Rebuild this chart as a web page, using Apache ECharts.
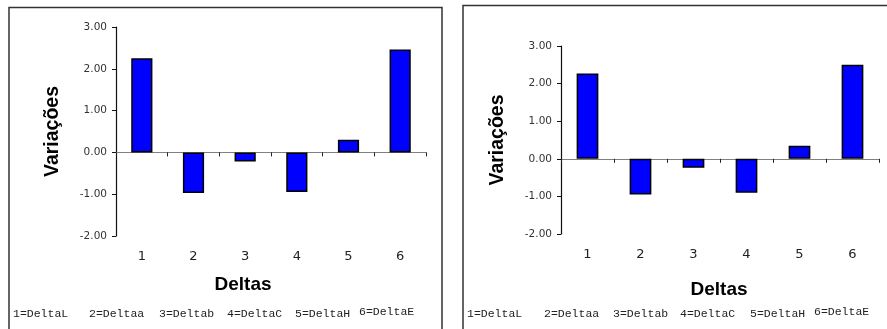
<!DOCTYPE html>
<html>
<head>
<meta charset="utf-8">
<script src="https://cdn.jsdelivr.net/npm/echarts@6/dist/echarts.min.js"></script>
<style>
  html, body { margin: 0; padding: 0; background: #fff; }
  #chart { width: 887px; height: 329px; }
</style>
</head>
<body>
<div id="chart"></div>
<script>
// Categories and values for the two panels
const categories = ['1', '2', '3', '4', '5', '6'];
const leftValues = [2.25, -0.97, -0.22, -0.95, 0.30, 2.46];
const rightValues = [2.27, -0.95, -0.24, -0.90, 0.35, 2.50];
const keyLabels = ['1=DeltaL', '2=Deltaa', '3=Deltab', '4=DeltaC', '5=DeltaH', '6=DeltaE'];
const yMin = -2, yMax = 3, yStep = 1;
const yTitle = 'Variações';
const xTitle = 'Deltas';

const chart = echarts.init(document.getElementById('chart'), null, { renderer: 'canvas' });

const grids = [
  { left: 116, right: 461, top: 27, bottom: 93 },
  { left: 561, right: 8, top: 46, bottom: 95 }
];

function labelAxis(gi) {
  return {
    type: 'category', gridIndex: gi, data: categories, position: 'bottom',
    axisLine: { show: false, onZero: false }, axisTick: { show: false },
    axisLabel: { margin: 14, fontFamily: 'DejaVu Sans', fontSize: 13, color: '#222' }
  };
}
function zeroAxis(gi) {
  return {
    type: 'category', gridIndex: gi, data: categories, position: 'bottom',
    axisLine: { show: true, onZero: true, lineStyle: { color: '#808080', width: 1.2 } },
    axisTick: { show: true, inside: false, length: 4, lineStyle: { color: '#222', width: 1 } },
    axisLabel: { show: false }
  };
}
function valueAxis(gi) {
  return {
    type: 'value', gridIndex: gi, min: yMin, max: yMax, interval: yStep,
    splitLine: { show: false },
    axisLine: { show: true, lineStyle: { color: '#111', width: 1.2 } },
    axisTick: { show: true, length: 4, lineStyle: { color: '#111' } },
    axisLabel: { margin: 9, fontFamily: 'DejaVu Sans', fontSize: 10.5, color: '#333',
      formatter: v => v.toFixed(2) },
    name: yTitle, nameLocation: 'middle', nameGap: 53,
    nameTextStyle: { fontFamily: 'Liberation Sans', fontWeight: 'bold', fontSize: 19.5, color: '#000' }
  };
}
function barSeries(idx, values) {
  return {
    type: 'bar', xAxisIndex: idx * 2, yAxisIndex: idx, data: values,
    barWidth: '41%',
    itemStyle: { color: '#0000FF', borderColor: '#000', borderWidth: 1.5 }
  };
}

const leftKeyX = [13, 89, 159, 227, 295, 359];
const rightKeyX = [467, 544, 613, 680, 750, 814];
function keyTexts(xs) {
  return keyLabels.map((t, i) => ({
    type: 'text', x: xs[i], y: i === 5 ? 312 : 314,
    style: { text: t, fontFamily: 'Liberation Mono', fontSize: 11.5, fill: '#222',
      verticalAlign: 'middle', align: 'left' }
  }));
}

chart.setOption({
  animation: false,
  grid: grids,
  xAxis: [labelAxis(0), zeroAxis(0), labelAxis(1), zeroAxis(1)],
  yAxis: [valueAxis(0), valueAxis(1)],
  series: [barSeries(0, leftValues), barSeries(1, rightValues)],
  graphic: [
    { type: 'rect', shape: { x: 9, y: 7.5, width: 433, height: 340 },
      style: { fill: 'none', stroke: '#333', lineWidth: 1.5 } },
    { type: 'rect', shape: { x: 463, y: 5.5, width: 440, height: 340 },
      style: { fill: 'none', stroke: '#333', lineWidth: 1.5 } },
    { type: 'text', x: 243, y: 285,
      style: { text: xTitle, fontFamily: 'Liberation Sans', fontWeight: 'bold', fontSize: 19, fill: '#000', align: 'center', verticalAlign: 'middle' } },
    { type: 'text', x: 719, y: 290,
      style: { text: xTitle, fontFamily: 'Liberation Sans', fontWeight: 'bold', fontSize: 19, fill: '#000', align: 'center', verticalAlign: 'middle' } },
    ...keyTexts(leftKeyX),
    ...keyTexts(rightKeyX)
  ]
});
</script>
</body>
</html>
